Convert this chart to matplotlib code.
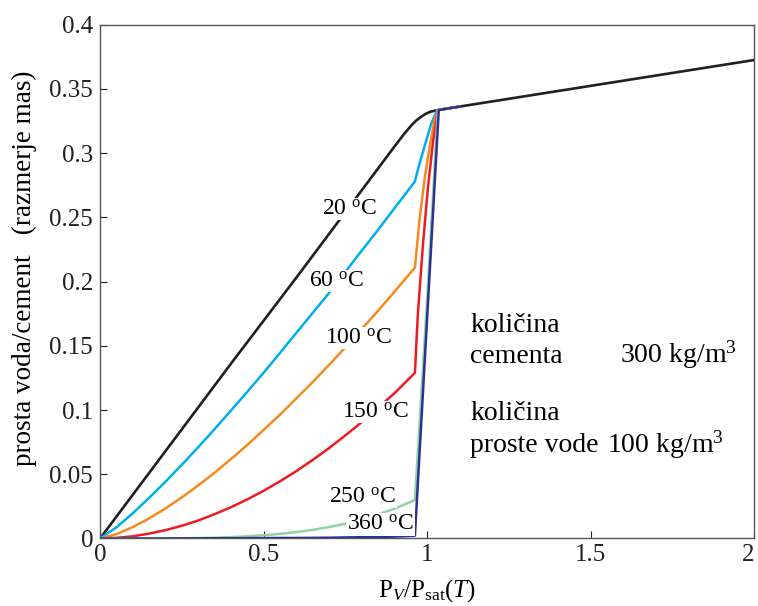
import matplotlib
matplotlib.use('Agg')
import matplotlib.pyplot as plt

plt.rcParams['font.family'] = ['Liberation Serif', 'DejaVu Serif']
plt.rcParams['mathtext.fontset'] = 'custom'
plt.rcParams['mathtext.rm'] = 'Liberation Serif'
plt.rcParams['mathtext.it'] = 'Liberation Serif:italic'

# podatki, odčitani s slike
x_20 = [0, 0.2, 0.4, 0.6, 0.8, 0.9, 0.93, 0.95, 0.965, 0.98, 0.995, 1.01, 1.034, 1.1, 2.0]
y_20 = [0, 0.068, 0.136, 0.203, 0.271, 0.305, 0.315, 0.321, 0.325, 0.328, 0.3305, 0.3323,
        0.3336, 0.3363, 0.3725]

x_low = [0, 0.05, 0.1, 0.15, 0.2, 0.25, 0.3, 0.35, 0.4, 0.45, 0.5,
         0.55, 0.6, 0.65, 0.7, 0.75, 0.8, 0.85, 0.9, 0.95, 0.963]
y_60 = [0, 0.0087, 0.0196, 0.0316, 0.0442, 0.0574, 0.0710, 0.0851, 0.0995, 0.1141, 0.129,
        0.1444, 0.160, 0.1755, 0.191, 0.2075, 0.224, 0.2402, 0.257, 0.2736, 0.278]
y_100 = [0, 0.0034, 0.0089, 0.0156, 0.0234, 0.0320, 0.0413, 0.0511, 0.0618, 0.0727, 0.0845,
         0.0963, 0.109, 0.1217, 0.135, 0.1487, 0.163, 0.1772, 0.192, 0.207, 0.211]
y_150 = [0, 0.0005, 0.0017, 0.0038, 0.0065, 0.0099, 0.0140, 0.0189, 0.0243, 0.0304, 0.0371,
         0.0445, 0.0524, 0.0611, 0.0703, 0.0802, 0.0905, 0.1018, 0.113, 0.1257, 0.129]
y_250 = [0, 0, 0, 0, 0.0001, 0.0002, 0.0004, 0.0006, 0.0011, 0.0017, 0.0025,
         0.0036, 0.0050, 0.0067, 0.0089, 0.0116, 0.0148, 0.0187, 0.0232, 0.0285, 0.030]
y_360 = [0, 0, 0, 0, 0, 0.0001, 0.0001, 0.0002, 0.0002, 0.0003, 0.0003,
         0.0004, 0.0004, 0.0005, 0.0006, 0.0008, 0.0010, 0.0012, 0.0015, 0.0020, 0.0022]

# strmi del pri P_V/P_sat ~ 1 in skupni del do 1.1
x_rise_60 = [0.975, 0.992, 1.013, 1.028, 1.034, 1.1]
y_rise_60 = [0.290, 0.305, 0.323, 0.332, 0.3336, 0.3363]
x_rise_100 = [0.977, 0.992, 1.008, 1.023, 1.033, 1.1]
y_rise_100 = [0.248, 0.279, 0.305, 0.326, 0.3336, 0.3363]
x_rise_150 = [0.972, 0.987, 1.002, 1.018, 1.033, 1.1]
y_rise_150 = [0.175, 0.227, 0.271, 0.308, 0.3336, 0.3363]
x_rise_250 = [1.0, 1.033, 1.1]
y_rise_250 = [0.185, 0.3336, 0.3363]
x_rise_360 = [1.0, 1.036, 1.1]
y_rise_360 = [0.170, 0.3336, 0.3363]

labels = ['20 $^{\\rm o}$C', '60 $^{\\rm o}$C', '100 $^{\\rm o}$C',
          '150 $^{\\rm o}$C', '250 $^{\\rm o}$C', '360 $^{\\rm o}$C']
label_x = [0.763, 0.724, 0.791, 0.843, 0.803, 0.858]
label_y = [0.2565, 0.2005, 0.156, 0.0985, 0.0323, 0.011]

colors = ['#231f20', '#00aeef', '#f58a1f', '#ed1c24', '#8fd3a9', '#2e3192']

yticks = [0, 0.05, 0.1, 0.15, 0.2, 0.25, 0.3, 0.35, 0.4]
ytick_labels = ['0', '0.05', '0.1', '0.15', '0.2', '0.25', '0.3', '0.35', '0.4']
xticks = [0, 0.5, 1, 1.5, 2]
xtick_labels = ['0', '0.5', '1', '1.5', '2']

fig = plt.figure(figsize=(7.58, 6.06), dpi=100)
ax = fig.add_axes([0.132, 0.1114, 0.8627, 0.8478])

ax.plot(x_20, y_20, color=colors[0], lw=1.9, zorder=2)
series = [(y_60, x_rise_60, y_rise_60), (y_100, x_rise_100, y_rise_100),
          (y_150, x_rise_150, y_rise_150), (y_250, x_rise_250, y_rise_250),
          (y_360, x_rise_360, y_rise_360)]
for i, (ylow, xr, yr) in enumerate(series):
    ax.plot(x_low + xr, ylow + yr, color=colors[i + 1], lw=1.8, zorder=3 + i)

for t, lx, ly in zip(labels, label_x, label_y):
    ax.text(lx, ly, t, fontsize=17, ha='center', va='center', zorder=10,
            bbox=dict(facecolor='white', edgecolor='none', pad=0.5))

ax.set_xlim(0, 2)
ax.set_ylim(0, 0.4)
ax.set_xticks(xticks)
ax.set_xticklabels(xtick_labels)
ax.set_yticks(yticks)
ax.set_yticklabels(ytick_labels)
ax.tick_params(direction='in', length=5, width=0.8, labelsize=18, colors='#231f20')
ax.tick_params(axis='x', pad=4)
ax.tick_params(axis='y', pad=5)
ax.get_xticklabels()[-1].set_ha('right')
for s in ax.spines.values():
    s.set_color('#555555')
    s.set_linewidth(1)

ax.set_xlabel('P$_{V}$/P$_{\\rm sat}$($T$)', fontsize=18, labelpad=8)
ax.set_ylabel('prosta voda/cement   (razmerje mas)', fontsize=19.5)
ax.yaxis.set_label_coords(-0.097, 0.526)

# opombe desno
fs = 20
ax.text(0.566, 0.402, 'količina', transform=ax.transAxes, fontsize=fs, va='baseline')
ax.text(0.566, 0.342, 'cementa', transform=ax.transAxes, fontsize=fs, va='baseline')
ax.text(0.795, 0.342, '300 kg/m$^3$', transform=ax.transAxes, fontsize=fs, va='baseline')
ax.text(0.566, 0.231, 'količina', transform=ax.transAxes, fontsize=fs, va='baseline')
ax.text(0.566, 0.168, 'proste vode', transform=ax.transAxes, fontsize=fs, va='baseline')
ax.text(0.775, 0.168, '100 kg/m$^3$', transform=ax.transAxes, fontsize=fs, va='baseline')

fig.savefig('out.png', dpi=100, facecolor='white')
plt.close(fig)
